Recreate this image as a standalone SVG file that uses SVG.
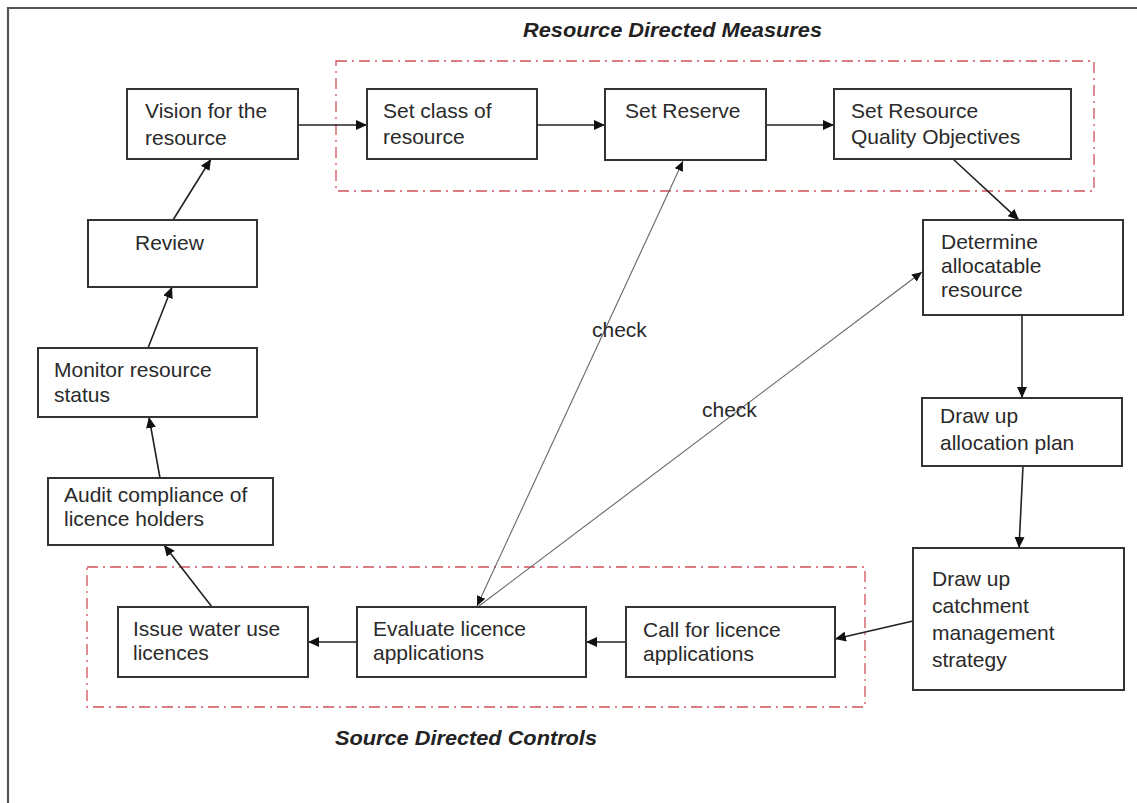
<svg xmlns="http://www.w3.org/2000/svg" width="1137" height="803" viewBox="0 0 1137 803">
<style>
.box{fill:#fff;stroke:#333;stroke-width:2}
.t{font-family:"Liberation Sans",Arial,sans-serif;font-size:21px;fill:#2a2a2a}
.title{font-family:"Liberation Sans",Arial,sans-serif;font-size:20px;font-weight:bold;font-style:italic;fill:#222}
.grp{fill:none;stroke:#d0505a;stroke-width:1.3;stroke-dasharray:11 5 2 5}
.c{fill:none;stroke:#222;stroke-width:1.6}
.chk{fill:none;stroke:#666;stroke-width:1.1}
</style>
<defs>
<marker id="ah" markerUnits="userSpaceOnUse" markerWidth="12" markerHeight="10" refX="11" refY="5" orient="auto-start-reverse">
<path d="M0,0 L11,5 L0,10 z" fill="#111"/>
</marker>
<marker id="ahs" markerUnits="userSpaceOnUse" markerWidth="11" markerHeight="9" refX="10" refY="4.5" orient="auto-start-reverse">
<path d="M0,0 L10,4.5 L0,9 z" fill="#111"/>
</marker>
</defs>
<rect width="1137" height="803" fill="#fff"/>
<g id="frame">
<path d="M8,803 L8,8 L1137,8" fill="none" stroke="#555" stroke-width="2.2"/>
</g>
<g id="groups">
<rect class="grp" x="336" y="61" width="758" height="130"/>
<rect class="grp" x="87" y="567" width="778" height="140"/>
<text class="title" x="523" y="37" textLength="299" lengthAdjust="spacingAndGlyphs">Resource Directed Measures</text>
<text class="title" x="335" y="745" textLength="262" lengthAdjust="spacingAndGlyphs">Source Directed Controls</text>
</g>
<g id="connectors">
<line class="c" x1="298" y1="125" x2="367" y2="125" marker-end="url(#ah)"/>
<line class="c" x1="537" y1="125" x2="605" y2="125" marker-end="url(#ah)"/>
<line class="c" x1="766" y1="125" x2="834" y2="125" marker-end="url(#ah)"/>
<line class="c" x1="953" y1="159" x2="1019" y2="220" marker-end="url(#ah)"/>
<line class="c" x1="1022" y1="315" x2="1022" y2="398" marker-end="url(#ah)"/>
<line class="c" x1="1023" y1="466" x2="1019" y2="548" marker-end="url(#ah)"/>
<line class="c" x1="913" y1="621" x2="835" y2="639" marker-end="url(#ah)"/>
<line class="c" x1="626" y1="642" x2="586" y2="642" marker-end="url(#ah)"/>
<line class="c" x1="357" y1="642" x2="308" y2="642" marker-end="url(#ah)"/>
<line class="c" x1="212" y1="607" x2="164" y2="545" marker-end="url(#ah)"/>
<line class="c" x1="160" y1="478" x2="149" y2="417" marker-end="url(#ah)"/>
<line class="c" x1="148" y1="348" x2="172" y2="287" marker-end="url(#ah)"/>
<line class="c" x1="173" y1="220" x2="211" y2="159" marker-end="url(#ah)"/>
<line class="chk" x1="477" y1="606" x2="683" y2="161" marker-start="url(#ahs)" marker-end="url(#ahs)"/>
<line class="chk" x1="479" y1="606" x2="922" y2="272" marker-end="url(#ahs)"/>
<text class="t" x="592" y="337">check</text>
<text class="t" x="702" y="417">check</text>
</g>
<g id="vision"><rect class="box" x="127" y="89" width="171" height="70"/><text class="t"><tspan x="145" y="118">Vision for the</tspan><tspan x="145" y="145">resource</tspan></text></g>
<g id="setclass"><rect class="box" x="367" y="89" width="170" height="70"/><text class="t"><tspan x="383" y="118">Set class of</tspan><tspan x="383" y="144">resource</tspan></text></g>
<g id="setreserve"><rect class="box" x="605" y="89" width="161" height="71"/><text class="t" x="625" y="118">Set Reserve</text></g>
<g id="rqo"><rect class="box" x="834" y="89" width="237" height="70"/><text class="t"><tspan x="851" y="118">Set Resource</tspan><tspan x="851" y="144">Quality Objectives</tspan></text></g>
<g id="determine"><rect class="box" x="923" y="220" width="200" height="95"/><text class="t"><tspan x="941" y="249">Determine</tspan><tspan x="941" y="273">allocatable</tspan><tspan x="941" y="297">resource</tspan></text></g>
<g id="allocplan"><rect class="box" x="922" y="398" width="200" height="68"/><text class="t"><tspan x="940" y="423">Draw up</tspan><tspan x="940" y="450">allocation plan</tspan></text></g>
<g id="catchment"><rect class="box" x="913" y="548" width="211" height="142"/><text class="t"><tspan x="932" y="586">Draw up</tspan><tspan x="932" y="613">catchment</tspan><tspan x="932" y="640">management</tspan><tspan x="932" y="667">strategy</tspan></text></g>
<g id="callfor"><rect class="box" x="626" y="607" width="209" height="70"/><text class="t"><tspan x="643" y="637">Call for licence</tspan><tspan x="643" y="661">applications</tspan></text></g>
<g id="evaluate"><rect class="box" x="357" y="607" width="229" height="70"/><text class="t"><tspan x="373" y="636">Evaluate licence</tspan><tspan x="373" y="660">applications</tspan></text></g>
<g id="issue"><rect class="box" x="118" y="607" width="190" height="70"/><text class="t"><tspan x="133" y="636">Issue water use</tspan><tspan x="133" y="660">licences</tspan></text></g>
<g id="audit"><rect class="box" x="48" y="478" width="225" height="67"/><text class="t"><tspan x="64" y="502">Audit compliance of</tspan><tspan x="64" y="526">licence holders</tspan></text></g>
<g id="monitor"><rect class="box" x="38" y="348" width="219" height="69"/><text class="t"><tspan x="54" y="377">Monitor resource</tspan><tspan x="54" y="402">status</tspan></text></g>
<g id="review"><rect class="box" x="88" y="220" width="169" height="67"/><text class="t" x="135" y="250">Review</text></g>
</svg>
